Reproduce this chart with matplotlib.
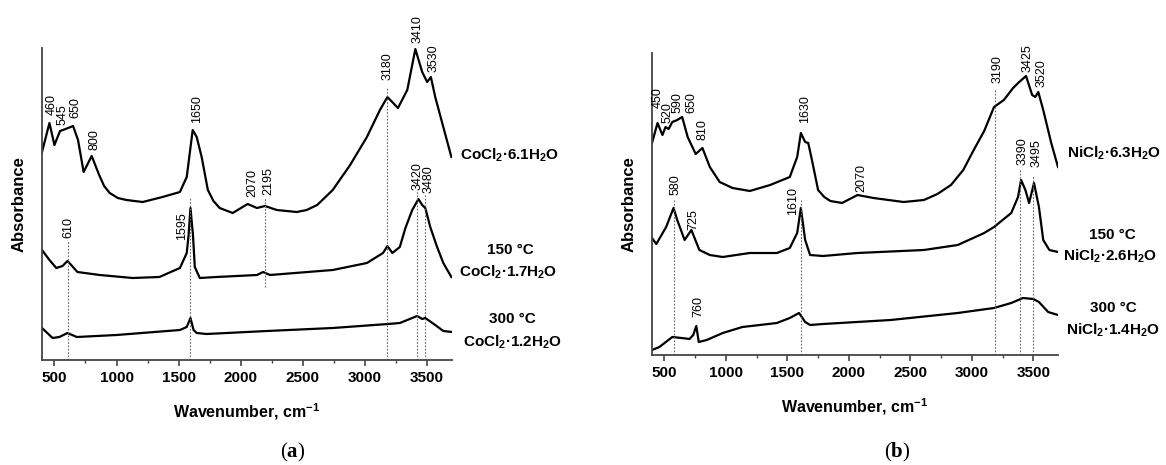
import numpy as np
import matplotlib
matplotlib.use('Agg')
import matplotlib.pyplot as plt
from matplotlib.ticker import MultipleLocator

plt.rcParams['font.family'] = ['Liberation Sans', 'DejaVu Sans']
plt.rcParams['mathtext.fontset'] = 'custom'
plt.rcParams['mathtext.rm'] = 'Liberation Sans:bold'
plt.rcParams['mathtext.bf'] = 'Liberation Serif:bold'

# ---- (a) CoCl2 spectra: wavenumber (cm-1) / absorbance (a.u., offset) ----
co_61_x = [400, 460, 500, 545, 590, 650, 690, 735, 800, 860, 900, 945, 1010, 1080, 1210, 1370, 1510,
           1565, 1613, 1645, 1685, 1735, 1780, 1830, 1935, 2055, 2130, 2195, 2290, 2450, 2530, 2615,
           2740, 2880, 3015, 3120, 3180, 3265, 3340, 3405, 3460, 3500, 3530, 3565, 3630, 3695]
co_61_y = [2.08, 2.37, 2.15, 2.29, 2.31, 2.34, 2.20, 1.88, 2.04, 1.85, 1.74, 1.67, 1.62, 1.60, 1.58, 1.63, 1.68,
           1.83, 2.30, 2.23, 2.03, 1.70, 1.59, 1.52, 1.47, 1.56, 1.52, 1.54, 1.50, 1.48, 1.50, 1.55,
           1.70, 1.95, 2.23, 2.50, 2.63, 2.52, 2.70, 3.11, 2.88, 2.78, 2.83, 2.63, 2.33, 2.03]

co_17_x = [400, 460, 515, 565, 605, 635, 685, 865, 1130, 1345, 1510, 1565, 1580, 1595, 1615,
           1630, 1670, 1805, 2130, 2180, 2235, 2740, 3015, 3145, 3180, 3220, 3280, 3325,
           3380, 3430, 3460, 3485, 3525, 3580, 3630, 3695]
co_17_y = [1.10, 1.00, 0.92, 0.94, 0.99, 0.95, 0.88, 0.85, 0.82, 0.83, 0.92, 1.07, 1.25, 1.52, 1.25,
           0.93, 0.82, 0.83, 0.85, 0.88, 0.85, 0.90, 0.97, 1.07, 1.14, 1.07, 1.13, 1.32,
           1.50, 1.61, 1.55, 1.52, 1.33, 1.13, 0.97, 0.83]

co_12_x = [400, 485, 540, 605, 680, 1000, 1510, 1565, 1595, 1620, 1645, 1725, 2210, 2740,
           3185, 3280, 3420, 3460, 3485, 3565, 3630, 3700]
co_12_y = [0.32, 0.22, 0.23, 0.27, 0.23, 0.25, 0.30, 0.33, 0.42, 0.30, 0.27, 0.26, 0.29, 0.32,
           0.36, 0.37, 0.44, 0.41, 0.42, 0.35, 0.29, 0.28]

co_vlines = [610, 1595, 2195, 3180, 3420, 3480]
co_vtop = [1.20, 1.63, 1.62, 2.73, 1.70, 1.65]
co_vbot = [0, 0, 0.73, 0, 0, 0]

co_labels = ['460', '545', '650', '800', '1650', '2070', '2195', '3180', '3410', '3530',
             '610', '1595', '3420', '3480']
co_lab_x = [475, 565, 670, 825, 1645, 2090, 2220, 3185, 3420, 3555, 615, 1525, 3420, 3510]
co_lab_y = [2.45, 2.35, 2.42, 2.10, 2.37, 1.63, 1.65, 2.80, 3.17, 2.88, 1.22, 1.20, 1.70, 1.67]

# ---- (b) NiCl2 spectra ----
ni_63_x = [400, 445, 485, 510, 535, 565, 605, 645, 690, 755, 810, 870, 950, 1055, 1195, 1360,
           1520, 1580, 1610, 1645, 1670, 1700, 1750, 1800, 1850, 1945, 2070, 2200, 2445, 2610,
           2720, 2830, 2930, 3015, 3100, 3180, 3260, 3335, 3385, 3440, 3490, 3515, 3540, 3580, 3645, 3700]
ni_63_y = [2.12, 2.32, 2.20, 2.28, 2.26, 2.33, 2.35, 2.38, 2.18, 2.01, 2.07, 1.88, 1.73, 1.67, 1.64, 1.70,
           1.78, 1.98, 2.22, 2.13, 2.12, 1.95, 1.65, 1.58, 1.54, 1.52, 1.60, 1.57, 1.53, 1.55,
           1.61, 1.70, 1.85, 2.05, 2.24, 2.48, 2.55, 2.67, 2.73, 2.79, 2.60, 2.58, 2.63, 2.45, 2.12, 1.88]

ni_26_x = [400, 435, 515, 575, 605, 665, 720, 785, 870, 975, 1195, 1415, 1520, 1580, 1610,
           1645, 1685, 1790, 2070, 2610, 2885, 3100, 3180, 3320, 3375, 3400, 3435, 3465,
           3505, 3545, 3580, 3630, 3700]
ni_26_y = [1.17, 1.11, 1.28, 1.47, 1.35, 1.15, 1.25, 1.05, 1.00, 0.98, 1.02, 1.02, 1.07, 1.22, 1.47,
           1.15, 1.00, 0.99, 1.02, 1.05, 1.10, 1.22, 1.28, 1.42, 1.58, 1.75, 1.65, 1.52,
           1.72, 1.48, 1.15, 1.05, 1.03]

ni_14_x = [400, 460, 565, 640, 705, 735, 760, 780, 845, 975, 1135, 1415, 1520, 1595, 1645,
           1685, 1790, 2340, 2885, 3180, 3320, 3415, 3500, 3545, 3620, 3700]
ni_14_y = [0.05, 0.08, 0.18, 0.17, 0.16, 0.20, 0.29, 0.13, 0.15, 0.22, 0.28, 0.32, 0.37, 0.42, 0.33,
           0.30, 0.31, 0.35, 0.42, 0.47, 0.52, 0.57, 0.56, 0.53, 0.43, 0.40]

ni_vlines = [580, 1610, 3190, 3390, 3495]
ni_vtop = [1.55, 1.55, 2.65, 1.85, 1.80]

ni_labels = ['450', '520', '590', '650', '810', '1630', '2070', '3190', '3425', '3520',
             '580', '725', '1610', '3390', '3495', '760']
ni_lab_x = [445, 525, 605, 720, 810, 1645, 2100, 3210, 3450, 3565, 590, 735, 1545, 3410, 3525, 780]
ni_lab_y = [2.47, 2.32, 2.42, 2.42, 2.15, 2.32, 1.63, 2.72, 2.83, 2.68, 1.60, 1.25, 1.40, 1.90, 1.88, 0.38]

W, H = 1166, 465
fig = plt.figure(figsize=(W / 100, H / 100), dpi=100)
ax1 = fig.add_axes([42 / W, 1 - 360 / H, 410 / W, 312 / H])
ax2 = fig.add_axes([652 / W, 1 - 355 / H, 406 / W, 302 / H])


def setup(ax, ytop):
    ax.set_xlim(400, 3700)
    ax.set_ylim(0, ytop)
    for s in ['top', 'right']:
        ax.spines[s].set_visible(False)
    for s in ['left', 'bottom']:
        ax.spines[s].set_linewidth(1.3)
        ax.spines[s].set_color('#444444')
    ax.set_yticks([])
    ax.xaxis.set_major_locator(MultipleLocator(500))
    ax.xaxis.set_minor_locator(MultipleLocator(250))
    ax.tick_params(axis='x', which='major', direction='out', length=4, width=1.2,
                   color='#444444', labelsize=11, pad=4)
    ax.tick_params(axis='x', which='minor', direction='out', length=2.5, width=1.0, color='#444444')
    for t in ax.get_xticklabels():
        t.set_fontweight('bold')
    ax.set_xlabel('Wavenumber, cm$^{-1}$', fontsize=11.5, fontweight='bold', labelpad=12)
    ax.set_ylabel('Absorbance', fontsize=12, fontweight='bold', labelpad=11)


setup(ax1, 3.12)
setup(ax2, 3.02)

for xs, ys in [(co_61_x, co_61_y), (co_17_x, co_17_y), (co_12_x, co_12_y)]:
    ax1.plot(xs, ys, color='black', lw=1.6, solid_joinstyle='round')
for xs, ys in [(ni_63_x, ni_63_y), (ni_26_x, ni_26_y), (ni_14_x, ni_14_y)]:
    ax2.plot(xs, ys, color='black', lw=1.6, solid_joinstyle='round')

ax1.vlines(co_vlines, co_vbot, co_vtop, colors='#666666', linestyles=(0, (1.5, 1.5)), lw=0.8)
ax2.vlines(ni_vlines, 0, ni_vtop, colors='#666666', linestyles=(0, (1.5, 1.5)), lw=0.8)

for t, x, y in zip(co_labels, co_lab_x, co_lab_y):
    ax1.text(x, y, t, rotation=90, ha='center', va='bottom', fontsize=9, clip_on=False)
for t, x, y in zip(ni_labels, ni_lab_x, ni_lab_y):
    ax2.text(x, y, t, rotation=90, ha='center', va='bottom', fontsize=9, clip_on=False)


def ftxt(px, py, s, ha='left'):
    fig.text(px / W, 1 - py / H, s, ha=ha, va='center', fontsize=11, fontweight='bold')


ftxt(460, 155, r'CoCl$_\mathrm{2}$·6.1H$_\mathrm{2}$O')
ftxt(510, 250, '150 °C', ha='center')
ftxt(459, 272, r'CoCl$_\mathrm{2}$·1.7H$_\mathrm{2}$O')
ftxt(512, 319, '300 °C', ha='center')
ftxt(463, 342, r'CoCl$_\mathrm{2}$·1.2H$_\mathrm{2}$O')

ftxt(1067, 153, r'NiCl$_\mathrm{2}$·6.3H$_\mathrm{2}$O')
ftxt(1112, 235, '150 °C', ha='center')
ftxt(1063, 256, r'NiCl$_\mathrm{2}$·2.6H$_\mathrm{2}$O')
ftxt(1113, 308, '300 °C', ha='center')
ftxt(1066, 330, r'NiCl$_\mathrm{2}$·1.4H$_\mathrm{2}$O')

fig.text(293 / W, 1 - 452 / H, r'($\mathbf{a}$)', ha='center', va='center', fontsize=15,
         family=['Liberation Serif'])
fig.text(897 / W, 1 - 452 / H, r'($\mathbf{b}$)', ha='center', va='center', fontsize=15,
         family=['Liberation Serif'])

fig.savefig('out.png', dpi=100, facecolor='white')
